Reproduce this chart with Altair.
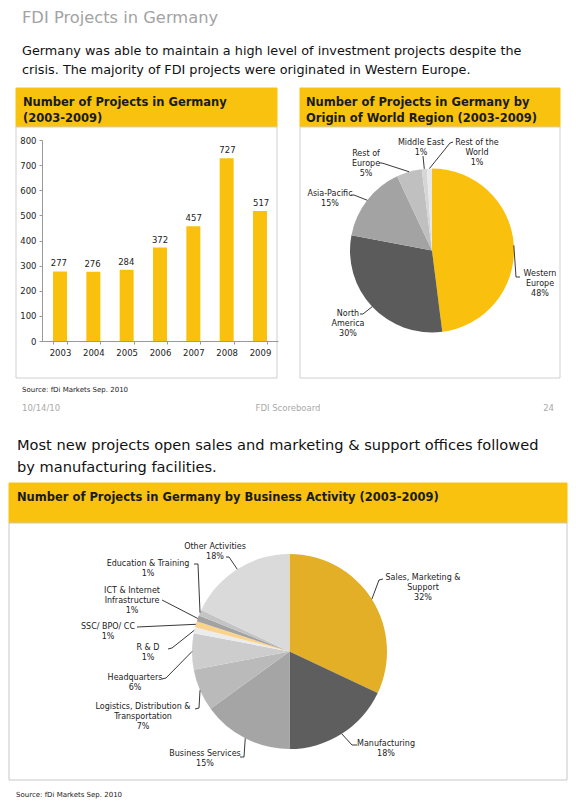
import math
import altair as alt
import pandas as pd

# ---------------- data ----------------
years = ["2003", "2004", "2005", "2006", "2007", "2008", "2009"]
projects = [277, 276, 284, 372, 457, 727, 517]

regions = ["Western Europe", "North America", "Asia-Pacific", "Rest of Europe",
           "Middle East", "Rest of the World"]
region_pct = [48, 30, 15, 5, 1, 1]
region_label_lines = [["Western", "Europe"], ["North", "America"], ["Asia-Pacific"],
                      ["Rest of", "Europe"], ["Middle East"], ["Rest of the", "World"]]

activities = ["Sales, Marketing & Support", "Manufacturing", "Business Services",
              "Logistics, Distribution & Transportation", "Headquarters", "R & D",
              "SSC/ BPO/ CC", "ICT & Internet Infrastructure", "Education & Training",
              "Other Activities"]
activity_pct = [32, 18, 15, 7, 6, 1, 1, 1, 1, 18]
activity_label_lines = [["Sales, Marketing &", "Support"], ["Manufacturing"],
                        ["Business Services"], ["Logistics, Distribution &", "Transportation"],
                        ["Headquarters"], ["R & D"], ["SSC/ BPO/ CC"],
                        ["ICT & Internet", "Infrastructure"], ["Education & Training"],
                        ["Other Activities"]]

page_title = "FDI Projects in Germany"
intro_lines = ["Germany was able to maintain a high level of investment projects despite the",
               "crisis. The majority of FDI projects were originated in Western Europe."]
intro2_lines = ["Most new projects open sales and marketing & support offices followed",
                "by manufacturing facilities."]
header_left = ["Number of Projects in Germany", "(2003-2009)"]
header_right = ["Number of Projects in Germany by", "Origin of World Region (2003-2009)"]
header_bottom = ["Number of Projects in Germany by Business Activity (2003-2009)"]
source_text = "Source: fDi Markets Sep. 2010"
footer_left, footer_mid, footer_right = "10/14/10", "FDI Scoreboard", "24"

# ---------------- styles / layout ----------------
FONT = "DejaVu Sans"
YELLOW = "#F8C20E"
region_colors = ["#F9C10E", "#5B5B5B", "#A3A3A3", "#C0C0C0", "#D6D6D6", "#E9E9E9"]
activity_colors = ["#E3AF27", "#5E5E5E", "#A5A5A5", "#BABABA", "#CDCDCD", "#ECECEE",
                   "#FAD48C", "#A2A2A2", "#C4C4C4", "#DADADA"]

OX, OY = 42, 140          # page position of bar plot origin
PW, PH = 236, 201         # bar plot size
PAD = {"left": OX - 8, "top": OY - 8, "right": 560 - (OX - 8) - PW, "bottom": 791 - (OY - 8) - PH}


def px(x):
    return x - OX


def py(y):
    return y - OY


PIE1 = dict(cx=432, cy=250.5, r=82)
PIE2 = dict(cx=289.5, cy=651.5, r=97.5)

pie1_layout = [
    dict(lx=540, ly=276, path=[(516, 277), (520, 277)]),
    dict(lx=348, ly=316, path=[(363, 314), (360, 314)]),
    dict(lx=330, ly=196, path=[(354, 195), (351, 195)]),
    dict(lx=366, ly=156, path=[(382, 163), (379, 163)]),
    dict(lx=421, ly=145, path=[(423, 156)]),
    dict(lx=477, ly=145, path=[(450, 143), (453, 142)]),
]
pie2_layout = [
    dict(lx=423, ly=580, path=[(379, 580), (383, 579)]),
    dict(lx=386, ly=746, path=[(352, 745), (357, 745)]),
    dict(lx=205, ly=756, path=[(244, 757), (240, 757)]),
    dict(lx=143, ly=709, path=[(199, 708), (195, 709)]),
    dict(lx=135, ly=680, path=[(166, 678), (162, 679)]),
    dict(lx=148, ly=650, path=[(172, 648), (168, 649)]),
    dict(lx=108, ly=629, path=[(137, 627)]),
    dict(lx=132, ly=593, path=[(162, 600)]),
    dict(lx=148, ly=566, path=[(198, 564), (194, 564)]),
    dict(lx=215, ly=549, path=[(229, 557), (226, 557)]),
]


def pie_frames(names, pcts, lines, colors, geom, layout, key):
    total = sum(pcts)
    cum = 0
    slices, labels, leaders = [], [], []
    for i, (n, p, ls, c) in enumerate(zip(names, pcts, lines, colors)):
        mid = (cum + p / 2) / total * 2 * math.pi
        cum += p
        ex = geom["cx"] + geom["r"] * math.sin(mid)
        ey = geom["cy"] - geom["r"] * math.cos(mid)
        lay = layout[i]
        for j, (x, y) in enumerate([(ex, ey)] + lay["path"]):
            leaders.append(dict(id=f"{key}{i}", seq=j, x=px(x), y=py(y)))
        for j, t in enumerate(ls + [f"{p}%"]):
            labels.append(dict(x=px(lay["lx"]), y=py(lay["ly"] + j * 10), text=t))
        slices.append(dict(name=n, pct=p, idx=i, color=c))
    return pd.DataFrame(slices), labels, leaders


s1, lab1, lead1 = pie_frames(regions, region_pct, region_label_lines, region_colors, PIE1, pie1_layout, "a")
s2, lab2, lead2 = pie_frames(activities, activity_pct, activity_label_lines, activity_colors, PIE2, pie2_layout, "b")
pie_labels = pd.DataFrame(lab1 + lab2)
leaders = pd.DataFrame(lead1 + lead2)

# decoration boxes (page coords)
boxes = pd.DataFrame([
    dict(x=px(16), x2=px(277), y=py(88), y2=py(127), fill=YELLOW, stroke=YELLOW),
    dict(x=px(16), x2=px(277), y=py(127), y2=py(378), fill="white", stroke="#CFCFCF"),
    dict(x=px(300), x2=px(560), y=py(88), y2=py(127), fill=YELLOW, stroke=YELLOW),
    dict(x=px(300), x2=px(560), y=py(127), y2=py(378), fill="white", stroke="#CFCFCF"),
    dict(x=px(9), x2=px(567), y=py(483), y2=py(523), fill=YELLOW, stroke=YELLOW),
    dict(x=px(9), x2=px(567), y=py(523), y2=py(780), fill="white", stroke="#C8C8C8"),
])

texts_left = pd.DataFrame([
    dict(x=px(22), y=py(23), text=page_title, size=16.3, color="#A3A3A3"),
    dict(x=px(22), y=py(55), text=intro_lines[0], size=12.8, color="#111111"),
    dict(x=px(22), y=py(74), text=intro_lines[1], size=12.8, color="#111111"),
    dict(x=px(22), y=py(392), text=source_text, size=7, color="#222222"),
    dict(x=px(22), y=py(411), text=footer_left, size=8.5, color="#AAAAAA"),
    dict(x=px(17), y=py(450), text=intro2_lines[0], size=14.6, color="#111111"),
    dict(x=px(17), y=py(472), text=intro2_lines[1], size=14.6, color="#111111"),
    dict(x=px(16), y=py(797), text=source_text, size=7, color="#222222"),
])
texts_bold = pd.DataFrame([
    dict(x=px(23), y=py(106), text=header_left[0]),
    dict(x=px(23), y=py(122), text=header_left[1]),
    dict(x=px(306), y=py(106), text=header_right[0]),
    dict(x=px(306), y=py(122), text=header_right[1]),
    dict(x=px(17), y=py(501), text=header_bottom[0]),
])
texts_center = pd.DataFrame([dict(x=px(288), y=py(411), text=footer_mid)])
texts_right = pd.DataFrame([dict(x=px(554), y=py(411), text=footer_right)])

bar_df = pd.DataFrame({"year": years, "projects": projects})

# ---------------- layers ----------------
X_PIX = lambda f: alt.X(f, scale=None, axis=None)
Y_PIX = lambda f: alt.Y(f, scale=None, axis=None)

box_layer = alt.Chart(boxes).mark_rect(strokeWidth=1).encode(
    x=X_PIX("x:Q"), x2="x2:Q", y=Y_PIX("y:Q"), y2="y2:Q",
    fill=alt.Fill("fill:N", scale=None), stroke=alt.Stroke("stroke:N", scale=None))

xband = alt.Scale(paddingInner=0.58, paddingOuter=0.33)
ylin = alt.Scale(domain=[0, 800])

bars = alt.Chart(bar_df).mark_bar(color="#F9C10E").encode(
    x=alt.X("year:O", scale=xband, title=None,
            axis=alt.Axis(labelAngle=0, tickBand="extent", tickSize=3, labelPadding=4,
                          labelFontSize=8.5, labelColor="#222222", labelFont=FONT,
                          domainColor="#999999", tickColor="#999999", zindex=1)),
    y=alt.Y("projects:Q", scale=ylin, title=None,
            axis=alt.Axis(values=list(range(0, 801, 100)), grid=False, tickSize=3,
                          labelPadding=3, labelFontSize=8.5, labelColor="#222222",
                          labelFont=FONT, domainColor="#999999", tickColor="#999999",
                          zindex=1)),
)
bar_text = alt.Chart(bar_df).mark_text(baseline="bottom", dy=-3, fontSize=8.5, font=FONT,
                                       color="#222222").encode(
    x=alt.X("year:O", scale=xband, axis=None),
    y=alt.Y("projects:Q", scale=ylin, axis=None),
    text="projects:Q")

pie1 = alt.Chart(s1).mark_arc(outerRadius=PIE1["r"]).encode(
    theta=alt.Theta("pct:Q", stack=True), order=alt.Order("idx:Q"),
    color=alt.Color("color:N", scale=None),
    x=alt.value(px(PIE1["cx"])), y=alt.value(py(PIE1["cy"])))
pie2 = alt.Chart(s2).mark_arc(outerRadius=PIE2["r"]).encode(
    theta=alt.Theta("pct:Q", stack=True), order=alt.Order("idx:Q"),
    color=alt.Color("color:N", scale=None),
    x=alt.value(px(PIE2["cx"])), y=alt.value(py(PIE2["cy"])))

leader_layer = alt.Chart(leaders).mark_line(color="#222222", strokeWidth=0.9).encode(
    x=X_PIX("x:Q"), y=Y_PIX("y:Q"), detail="id:N", order="seq:Q")

label_layer = alt.Chart(pie_labels).mark_text(align="center", baseline="alphabetic",
                                              fontSize=8, font=FONT, color="#222222").encode(
    x=X_PIX("x:Q"), y=Y_PIX("y:Q"), text="text:N")

left_text_layer = alt.Chart(texts_left).mark_text(align="left", baseline="alphabetic", font=FONT).encode(
    x=X_PIX("x:Q"), y=Y_PIX("y:Q"), text="text:N",
    size=alt.Size("size:Q", scale=None), color=alt.Color("color:N", scale=None))
bold_text_layer = alt.Chart(texts_bold).mark_text(align="left", baseline="alphabetic", font=FONT,
                                                  fontWeight="bold", fontSize=11.5,
                                                  color="#1A1A1A").encode(
    x=X_PIX("x:Q"), y=Y_PIX("y:Q"), text="text:N")
center_text_layer = alt.Chart(texts_center).mark_text(align="center", baseline="alphabetic", font=FONT,
                                                      fontSize=8.5, color="#AAAAAA").encode(
    x=X_PIX("x:Q"), y=Y_PIX("y:Q"), text="text:N")
right_text_layer = alt.Chart(texts_right).mark_text(align="right", baseline="alphabetic", font=FONT,
                                                    fontSize=8.5, color="#AAAAAA").encode(
    x=X_PIX("x:Q"), y=Y_PIX("y:Q"), text="text:N")

chart = alt.layer(
    box_layer, bars, bar_text, pie1, pie2, leader_layer, label_layer,
    left_text_layer, bold_text_layer, center_text_layer, right_text_layer,
).resolve_scale(x="independent", y="independent", theta="independent").properties(
    width=PW, height=PH,
    autosize=alt.AutoSizeParams(type="none"),
    padding=PAD,
    background="white",
).configure_view(stroke=None)

chart.save("out.html", embed_options={"renderer": "svg", "actions": False})
